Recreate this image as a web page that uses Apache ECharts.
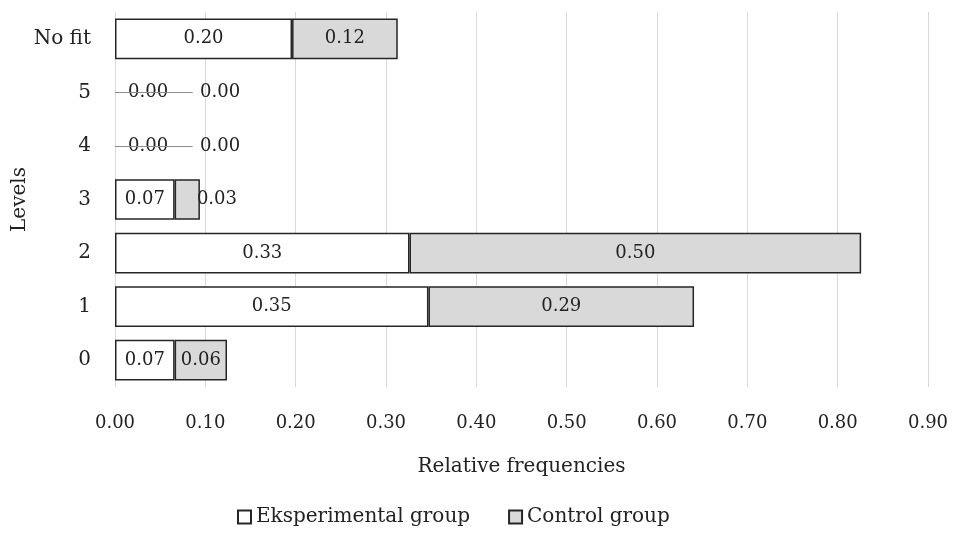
<!DOCTYPE html>
<html>
<head>
<meta charset="utf-8">
<script src="https://cdn.jsdelivr.net/npm/echarts@6/dist/echarts.min.js"></script>
<style>
  html, body { margin: 0; padding: 0; background: #fff; }
  #vis { width: 958px; height: 538px; }
</style>
</head>
<body>
<div id="vis"></div>
<script>
const levels = ['0', '1', '2', '3', '4', '5', 'No fit']
const experimental = [0.066, 0.347, 0.326, 0.066, 0, 0, 0.196]
const control = [0.058, 0.294, 0.5, 0.028, 0, 0, 0.117]
const xTicks = [0, 0.1, 0.2, 0.3, 0.4, 0.5, 0.6, 0.7, 0.8, 0.9]
// leader line drawn by the original at the empty levels
const zeroLeader = [['4', 0.086], ['5', 0.086]]

const font = 'DejaVu Serif'
const textColor = '#222222'
const nameSize = 20
const numSize = 18

const chart = echarts.init(document.getElementById('vis'), null, { renderer: 'canvas' })

function labelFor (series, value) {
  if (value === 0) {
    return { position: 'right', distance: series === 'exp' ? 13 : 85 }
  }
  if (series === 'ctrl' && value < 0.04) {
    return { position: 'right', distance: -3 }
  }
  return {}
}

function buildData (values, series) {
  return values.map(v => ({
    value: v,
    label: labelFor(series, v),
    itemStyle: v === 0 ? { borderWidth: 0 } : {}
  }))
}

const options = {
  animation: false,
  textStyle: { fontFamily: font },
  grid: { left: 115, right: 30, top: 12, bottom: 151, containLabel: false, outerBoundsMode: 'none' },
  legend: {
    bottom: 6,
    left: 232,
    itemGap: 38,
    itemWidth: 13,
    itemHeight: 13,
    icon: 'rect',
    textStyle: { fontFamily: font, fontSize: nameSize, color: textColor },
    data: ['Eksperimental group', 'Control group']
  },
  xAxis: {
    type: 'value',
    min: 0,
    max: 0.9,
    interval: 0.1,
    name: 'Relative frequencies',
    nameLocation: 'middle',
    nameGap: 70,
    nameMoveOverlap: false,
    nameTextStyle: { fontFamily: font, fontSize: nameSize, color: textColor },
    axisLine: { show: false },
    axisTick: { show: false },
    axisLabel: {
      margin: 27,
      fontSize: numSize,
      color: textColor,
      fontFamily: font,
      formatter: v => {
        const t = xTicks.find(x => Math.abs(x - v) < 1e-9)
        return t === undefined ? '' : t.toFixed(2)
      }
    },
    splitLine: { show: true, lineStyle: { color: '#d9d9d9', width: 1 } }
  },
  yAxis: {
    type: 'category',
    data: levels,
    name: 'Levels',
    nameLocation: 'middle',
    nameGap: 85,
    nameMoveOverlap: false,
    nameRotate: 90,
    nameTextStyle: { fontFamily: font, fontSize: nameSize, color: textColor },
    axisLine: { show: false },
    axisTick: { show: false },
    axisLabel: { margin: 24, fontSize: nameSize, color: textColor, fontFamily: font }
  },
  series: [
    {
      name: 'Eksperimental group',
      type: 'bar',
      stack: 'total',
      barWidth: '76%',
      itemStyle: { color: '#ffffff', borderColor: '#262626', borderWidth: 1.5 },
      label: {
        show: true,
        position: 'inside',
        fontSize: numSize,
        fontFamily: font,
        color: textColor,
        formatter: p => p.value.toFixed(2)
      },
      data: buildData(experimental, 'exp'),
      markLine: {
        silent: true,
        symbol: 'none',
        label: { show: false },
        lineStyle: { color: '#8c8c8c', width: 1.2, type: 'solid' },
        data: zeroLeader.map(([lvl, len]) => [{ coord: [0, lvl] }, { coord: [len, lvl] }])
      }
    },
    {
      name: 'Control group',
      type: 'bar',
      stack: 'total',
      barWidth: '76%',
      itemStyle: { color: '#d9d9d9', borderColor: '#262626', borderWidth: 1.5 },
      label: {
        show: true,
        position: 'inside',
        fontSize: numSize,
        fontFamily: font,
        color: textColor,
        formatter: p => p.value.toFixed(2)
      },
      data: buildData(control, 'ctrl')
    }
  ]
}

chart.setOption(options)
window.addEventListener('resize', () => chart.resize())
</script>
</body>
</html>
